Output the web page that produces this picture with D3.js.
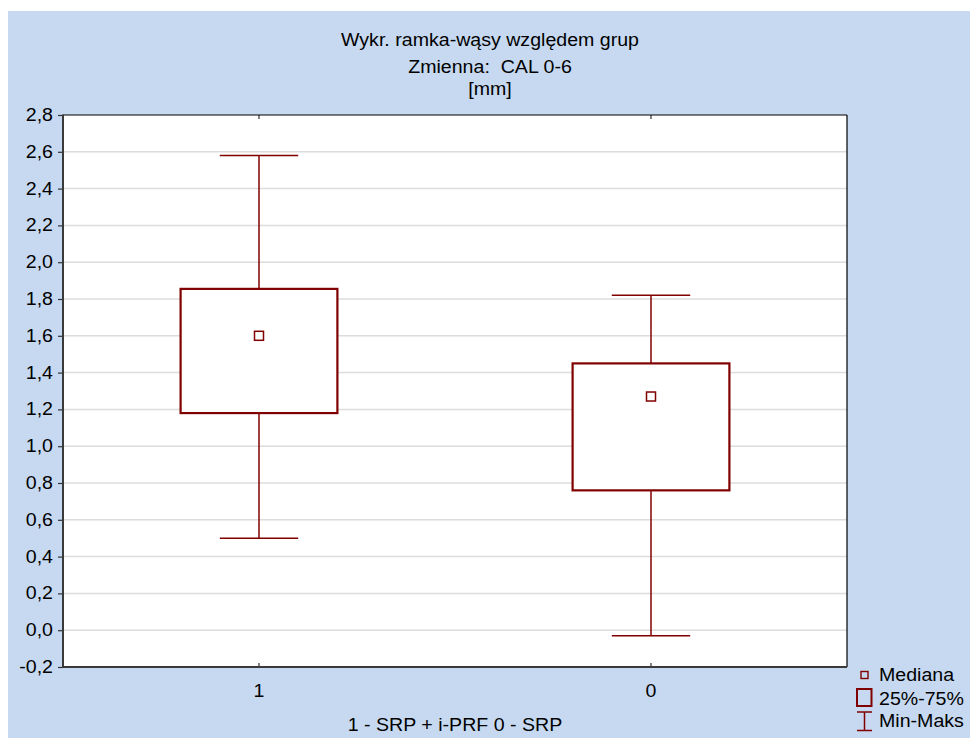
<!DOCTYPE html>
<html>
<head>
<meta charset="utf-8">
<script src="https://cdn.jsdelivr.net/npm/d3@7"></script>
<style>
  html, body { margin: 0; padding: 0; background: #ffffff; }
  svg { display: block; }
  text { font-family: "Liberation Sans", Arial, sans-serif; fill: #000; white-space: pre; }
</style>
</head>
<body>
<svg id="chart" width="970" height="738"></svg>
<script>
// Group labels (x axis) and box-plot statistics per group
const categories = ["1", "0"];
const minValues    = [0.50, -0.03];
const q1Values     = [1.18, 0.76];
const medianValues = [1.60, 1.27];
const q3Values     = [1.855, 1.45];
const maxValues    = [2.58, 1.82];

const yTickValues = [-0.2, 0.0, 0.2, 0.4, 0.6, 0.8, 1.0, 1.2, 1.4, 1.6, 1.8, 2.0, 2.2, 2.4, 2.6, 2.8];
const titleLines = ["Wykr. ramka-wąsy względem grup", "Zmienna:  CAL 0-6", "[mm]"];
const xAxisTitle = "1 - SRP + i-PRF 0 - SRP";
const legendItems = ["Mediana", "25%-75%", "Min-Maks"];

const W = 970, H = 738;
const plot = { left: 63, right: 847, top: 115, bottom: 667 };
const red = "#800000";
const stretch = 1.12; // horizontal glyph stretch used for all text
const fontPx = 17.5;

const svg = d3.select("#chart");

// Background panel
svg.append("rect").attr("x", 8).attr("y", 11).attr("width", W - 8).attr("height", H - 11)
  .attr("fill", "#c6d9f0");
svg.append("rect").attr("x", plot.left).attr("y", plot.top)
  .attr("width", plot.right - plot.left).attr("height", plot.bottom - plot.top)
  .attr("fill", "#ffffff");

const x = d3.scaleBand().domain(categories).range([plot.left, plot.right]).padding(0);
const y = d3.scaleLinear().domain([-0.2, 2.8]).range([plot.bottom, plot.top]);
const fmt = v => d3.format(".1f")(v).replace(".", ",").replace("−", "-");

function label(g, tx, ty, str, size, anchor) {
  return g.append("text")
    .attr("transform", `translate(${tx},${ty}) scale(${stretch},1)`)
    .attr("text-anchor", anchor || "middle")
    .style("font-size", size + "px")
    .text(str);
}

// Gridlines
svg.append("g").selectAll("line")
  .data(yTickValues.filter(v => v > -0.2 && v < 2.8))
  .join("line")
  .attr("x1", plot.left).attr("x2", plot.right)
  .attr("y1", d => y(d)).attr("y2", d => y(d))
  .attr("stroke", "#dcdcdc").attr("stroke-width", 1.5);

// Y axis ticks and labels
const yAxis = svg.append("g").attr("transform", `translate(${plot.left},0)`)
  .call(d3.axisLeft(y).tickValues(yTickValues).tickSize(5).tickFormat(""));
yAxis.select(".domain").remove();
yAxis.selectAll(".tick line").attr("stroke", "#333").attr("stroke-width", 1.2);
const yLab = svg.append("g");
yTickValues.forEach(v => label(yLab, 53, y(v) + 6, fmt(v), fontPx, "end"));

// X axis ticks (inside, bottom and top)
const xBottom = svg.append("g").attr("transform", `translate(0,${plot.bottom})`)
  .call(d3.axisTop(x).tickSize(4).tickFormat(""));
xBottom.select(".domain").remove();
xBottom.selectAll(".tick line").attr("stroke", "#333").attr("stroke-width", 1.2);
const xTop = svg.append("g").attr("transform", `translate(0,${plot.top})`)
  .call(d3.axisBottom(x).tickSize(4).tickFormat(""));
xTop.select(".domain").remove();
xTop.selectAll(".tick line").attr("stroke", "#333").attr("stroke-width", 1.2);

const xLab = svg.append("g");
categories.forEach(c => label(xLab, x(c) + x.bandwidth() / 2, 697, c, fontPx));
label(svg, (plot.left + plot.right) / 2, 731, xAxisTitle, fontPx);

// Plot frame
svg.append("line").attr("x1", plot.left).attr("x2", plot.right).attr("y1", plot.top).attr("y2", plot.top)
  .attr("stroke", "#000").attr("stroke-width", 1.2);
svg.append("line").attr("x1", plot.right).attr("x2", plot.right).attr("y1", plot.top).attr("y2", plot.bottom)
  .attr("stroke", "#000").attr("stroke-width", 1.2);
svg.append("line").attr("x1", plot.left).attr("x2", plot.left).attr("y1", plot.top - 0.6).attr("y2", plot.bottom + 1)
  .attr("stroke", "#3a3a3a").attr("stroke-width", 2);
svg.append("line").attr("x1", plot.left).attr("x2", plot.right).attr("y1", plot.bottom).attr("y2", plot.bottom)
  .attr("stroke", "#3a3a3a").attr("stroke-width", 2);

// Box plots
const boxW = x.bandwidth() * 0.4;
const capW = x.bandwidth() * 0.2;
const groups = categories.map((c, i) => ({
  c, min: minValues[i], q1: q1Values[i], med: medianValues[i], q3: q3Values[i], max: maxValues[i]
}));
const bp = svg.append("g").selectAll("g").data(groups).join("g")
  .attr("transform", d => `translate(${x(d.c) + x.bandwidth() / 2},0)`);

bp.append("line").attr("x1", 0).attr("x2", 0)
  .attr("y1", d => y(d.max)).attr("y2", d => y(d.q3))
  .attr("stroke", red).attr("stroke-width", 1.5);
bp.append("line").attr("x1", 0).attr("x2", 0)
  .attr("y1", d => y(d.q1)).attr("y2", d => y(d.min))
  .attr("stroke", red).attr("stroke-width", 1.5);
bp.append("line").attr("x1", -capW / 2).attr("x2", capW / 2)
  .attr("y1", d => y(d.max)).attr("y2", d => y(d.max))
  .attr("stroke", red).attr("stroke-width", 1.5);
bp.append("line").attr("x1", -capW / 2).attr("x2", capW / 2)
  .attr("y1", d => y(d.min)).attr("y2", d => y(d.min))
  .attr("stroke", red).attr("stroke-width", 1.5);
bp.append("rect").attr("x", -boxW / 2).attr("width", boxW)
  .attr("y", d => y(d.q3)).attr("height", d => y(d.q1) - y(d.q3))
  .attr("fill", "#ffffff").attr("stroke", red).attr("stroke-width", 2.2);
bp.append("rect").attr("x", -4.5).attr("width", 9)
  .attr("y", d => y(d.med) - 4.5).attr("height", 9)
  .attr("fill", "#ffffff").attr("stroke", red).attr("stroke-width", 1.5);

// Title
titleLines.forEach((t, i) => label(svg, 490, [46, 73, 95][i], t, fontPx));

// Legend
const lg = svg.append("g");
lg.append("rect").attr("x", 861).attr("y", 671.5).attr("width", 7).attr("height", 7)
  .attr("fill", "none").attr("stroke", red).attr("stroke-width", 1.4);
lg.append("rect").attr("x", 857).attr("y", 689).attr("width", 14.5).attr("height", 17)
  .attr("fill", "none").attr("stroke", red).attr("stroke-width", 2);
lg.append("line").attr("x1", 864.5).attr("x2", 864.5).attr("y1", 712).attr("y2", 730.5)
  .attr("stroke", red).attr("stroke-width", 1.5);
lg.append("line").attr("x1", 857).attr("x2", 872).attr("y1", 712).attr("y2", 712)
  .attr("stroke", red).attr("stroke-width", 1.5);
lg.append("line").attr("x1", 857).attr("x2", 872).attr("y1", 730.5).attr("y2", 730.5)
  .attr("stroke", red).attr("stroke-width", 1.5);
legendItems.forEach((t, i) => label(lg, 879, [681, 705, 727][i], t, fontPx, "start"));
</script>
</body>
</html>
